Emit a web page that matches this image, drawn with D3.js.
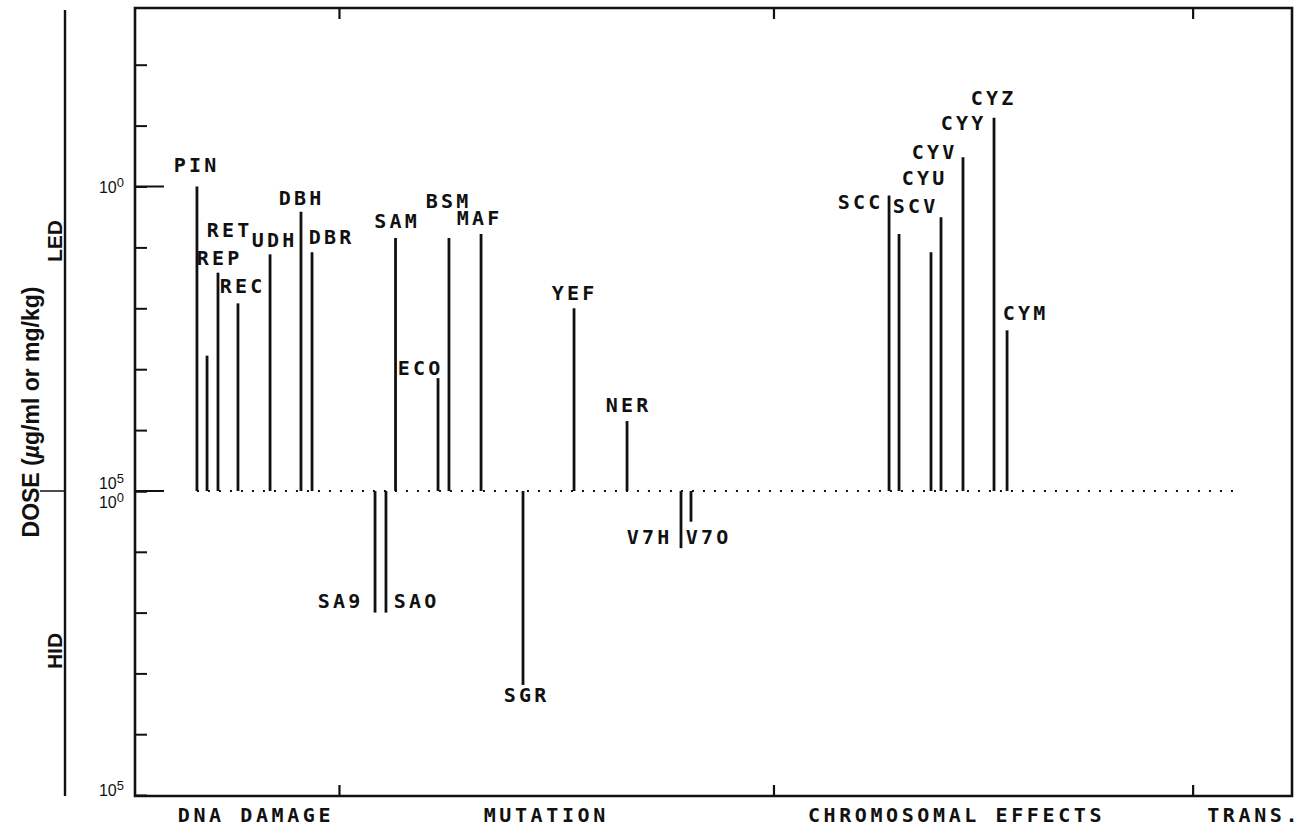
<!DOCTYPE html>
<html>
<head>
<meta charset="utf-8">
<script src="https://cdn.jsdelivr.net/npm/d3@7"></script>
<style>
    body { margin: 0; background: #fff; }
    svg { display: block; }
</style>
</head>
<body>
<div class="gap-chart"></div>
<script>
// Tests with a positive result: code, place in the test list, lowest effective dose
const ledCodes = ["PIN", "REP", "RET", "REC", "UDH", "DBH", "DBR", "SAM", "ECO", "BSM", "MAF",
                  "YEF", "NER", "SCC", "SCV", "CYU", "CYV", "CYY", "CYZ", "CYM"];
const ledPositions = [5.89, 6.85, 7.89, 9.79, 12.84, 15.78, 16.83, 24.77, 28.81, 29.85, 32.9,
                      41.74, 46.78, 71.69, 72.64, 75.68, 76.63, 78.72, 81.67, 82.91];
const ledDoses = [1.0, 600, 26, 83, 13, 2.6, 12, 7, 1400, 7, 6,
                  100, 7100, 1.4, 6, 12, 3.2, 0.33, 0.074, 230];

// Tests with a negative result: highest ineffective dose
const hidCodes = ["SA9", "SAO", "SGR", "V7H", "V7O"];
const hidPositions = [22.82, 23.86, 36.89, 51.91, 52.86];
const hidDoses = [100, 100, 1550, 8.7, 3.2];

const sectionNames = ["DNA DAMAGE", "MUTATION", "CHROMOSOMAL EFFECTS", "TRANS."];
const sectionBreaks = [19.44, 60.75, 100.6];

const ledTicks = [1e-2, 1e-1, 1, 10, 100, 1e3, 1e4, 1e5];
const hidTicks = [1, 10, 100, 1e3, 1e4, 1e5];
const ledMajor = [1, 1e5];

// layout only: where a code label sits relative to the end of its bar (px)
const labelNudge = {
    PIN: [-2, -15], REP: [11, -91], RET: [10, -36], REC: [3, -10], UDH: [3, -7],
    DBH: [-1, -7], DBR: [18, -8], SAM: [0, -10], ECO: [-19, -3], BSM: [-2, -30],
    MAF: [-3, -9], YEF: [-1, -8], NER: [0, -9], SCC: [-30, 14], SCV: [15, -21],
    CYU: [-8, -67], CYV: [-8, -58], CYY: [-1, -27], CYZ: [-2, -13], CYM: [17, -10],
    SA9: [-36, -5], SAO: [29, -5], SGR: [2, 17], V7H: [-33, -4], V7O: [16, 22]
};
const sectionLabelAt = [11.5, 39.1, 78.1, 106.4];

const width = 1305, height = 827;
const plotLeft = 135, plotRight = 1292, plotTop = 8, plotBottom = 796;

const svg = d3.select(".gap-chart").append("svg")
    .attr("width", width)
    .attr("height", height);

const x = d3.scaleLinear().domain([0, 110]).range([plotLeft, plotRight]);
const yLed = d3.scaleLog().domain([1e5, 1e-3]).range([491, 491 - 8 * 60.9]);
const yHid = d3.scaleLog().domain([1, 1e5]).range([491, 795]);

const ink = "#111";
const labelFont = "'DejaVu Sans Mono', monospace";
const sansFont = "'Liberation Sans', Arial, sans-serif";

// frame
svg.append("path")
    .attr("d", `M${plotLeft},${plotTop}H${plotRight}V${plotBottom}H${plotLeft}Z`)
    .attr("fill", "none")
    .attr("stroke", ink)
    .attr("stroke-width", 2.6);

// section dividers, top and bottom
sectionBreaks.forEach(b => {
    svg.append("line").attr("x1", x(b)).attr("x2", x(b)).attr("y1", plotTop).attr("y2", plotTop + 11)
        .attr("stroke", ink).attr("stroke-width", 2.2);
    svg.append("line").attr("x1", x(b)).attr("x2", x(b)).attr("y1", plotBottom).attr("y2", plotBottom - 11)
        .attr("stroke", ink).attr("stroke-width", 2.2);
});

// y ticks
function tickAxis(scale, values, size) {
    const g = svg.append("g")
        .attr("transform", `translate(${plotLeft},0)`)
        .call(d3.axisLeft(scale).tickValues(values).tickSizeInner(-size).tickSizeOuter(0).tickFormat(""));
    g.select(".domain").remove();
    g.selectAll(".tick line").attr("stroke", ink).attr("stroke-width", 2);
}
tickAxis(yLed, ledTicks, 12);
tickAxis(yHid, hidTicks, 12);

// the labelled decades get a longer tick
svg.selectAll("line.major")
    .data(ledMajor)
    .enter().append("line")
    .attr("class", "major")
    .attr("x1", plotLeft)
    .attr("x2", plotLeft + 29)
    .attr("y1", d => yLed(d))
    .attr("y2", d => yLed(d))
    .attr("stroke", ink)
    .attr("stroke-width", 2);

// tick labels 10^n
function powerLabel(yPos, exp) {
    const t = svg.append("text")
        .attr("x", 124)
        .attr("y", yPos)
        .attr("text-anchor", "end")
        .attr("font-family", sansFont)
        .attr("font-size", 16)
        .attr("fill", ink);
    t.append("tspan").text("10");
    t.append("tspan").attr("dy", -6).attr("font-size", 13).text(exp);
}
powerLabel(yLed(1) + 6, "0");
powerLabel(yLed(1e5) - 2, "5");
powerLabel(yHid(1) + 17, "0");
powerLabel(yHid(1e5) + 1, "5");

// outer dose axis
svg.append("line").attr("x1", 65).attr("x2", 65).attr("y1", 10).attr("y2", plotBottom)
    .attr("stroke", ink).attr("stroke-width", 2.4);
svg.append("line").attr("x1", 40).attr("x2", 65).attr("y1", 491).attr("y2", 491)
    .attr("stroke", ink).attr("stroke-width", 1.5);

const doseLabel = svg.append("text")
    .attr("transform", "translate(39,412) rotate(-90)")
    .attr("text-anchor", "middle")
    .attr("font-family", sansFont)
    .attr("font-weight", "bold")
    .attr("font-size", 23)
    .attr("fill", ink);
doseLabel.append("tspan").text("DOSE (");
doseLabel.append("tspan").attr("font-style", "italic").text("\u00b5");
doseLabel.append("tspan").text("g/ml or mg/kg)");

[["LED", 241], ["HID", 651]].forEach(([txt, cy]) => {
    svg.append("text")
        .attr("transform", `translate(62,${cy}) rotate(-90)`)
        .attr("text-anchor", "middle")
        .attr("font-family", sansFont)
        .attr("font-weight", "bold")
        .attr("font-size", 21)
        .attr("fill", ink)
        .text(txt);
});

// dotted zero line
svg.append("line")
    .attr("x1", x(ledPositions[0]))
    .attr("x2", x(104.9))
    .attr("y1", yLed(1e5))
    .attr("y2", yLed(1e5))
    .attr("stroke", ink)
    .attr("stroke-width", 2.2)
    .attr("stroke-dasharray", "2,9");

const ledData = ledCodes.map((c, i) => ({ code: c, pos: ledPositions[i], dose: ledDoses[i], end: yLed(ledDoses[i]) }));
const hidData = hidCodes.map((c, i) => ({ code: c, pos: hidPositions[i], dose: hidDoses[i], end: yHid(hidDoses[i]) }));
const allData = ledData.concat(hidData);

svg.selectAll("line.bar")
    .data(allData)
    .enter().append("line")
    .attr("class", "bar")
    .attr("x1", d => x(d.pos))
    .attr("x2", d => x(d.pos))
    .attr("y1", yLed(1e5))
    .attr("y2", d => d.end)
    .attr("stroke", ink)
    .attr("stroke-width", 2.8);

svg.selectAll("text.code")
    .data(allData)
    .enter().append("text")
    .attr("class", "code")
    .attr("x", d => x(d.pos) + labelNudge[d.code][0] + 1.6)
    .attr("y", d => d.end + labelNudge[d.code][1])
    .attr("text-anchor", "middle")
    .attr("font-family", labelFont)
    .attr("font-weight", "bold")
    .attr("font-size", 20)
    .attr("letter-spacing", 3.2)
    .attr("fill", ink)
    .text(d => d.code);

// section names under the axis
svg.selectAll("text.section")
    .data(sectionNames)
    .enter().append("text")
    .attr("class", "section")
    .attr("x", (d, i) => x(sectionLabelAt[i]))
    .attr("y", 822)
    .attr("text-anchor", "middle")
    .attr("font-family", labelFont)
    .attr("font-weight", "bold")
    .attr("font-size", 20)
    .attr("letter-spacing", 3.6)
    .attr("fill", ink)
    .text(d => d);
</script>
</body>
</html>
